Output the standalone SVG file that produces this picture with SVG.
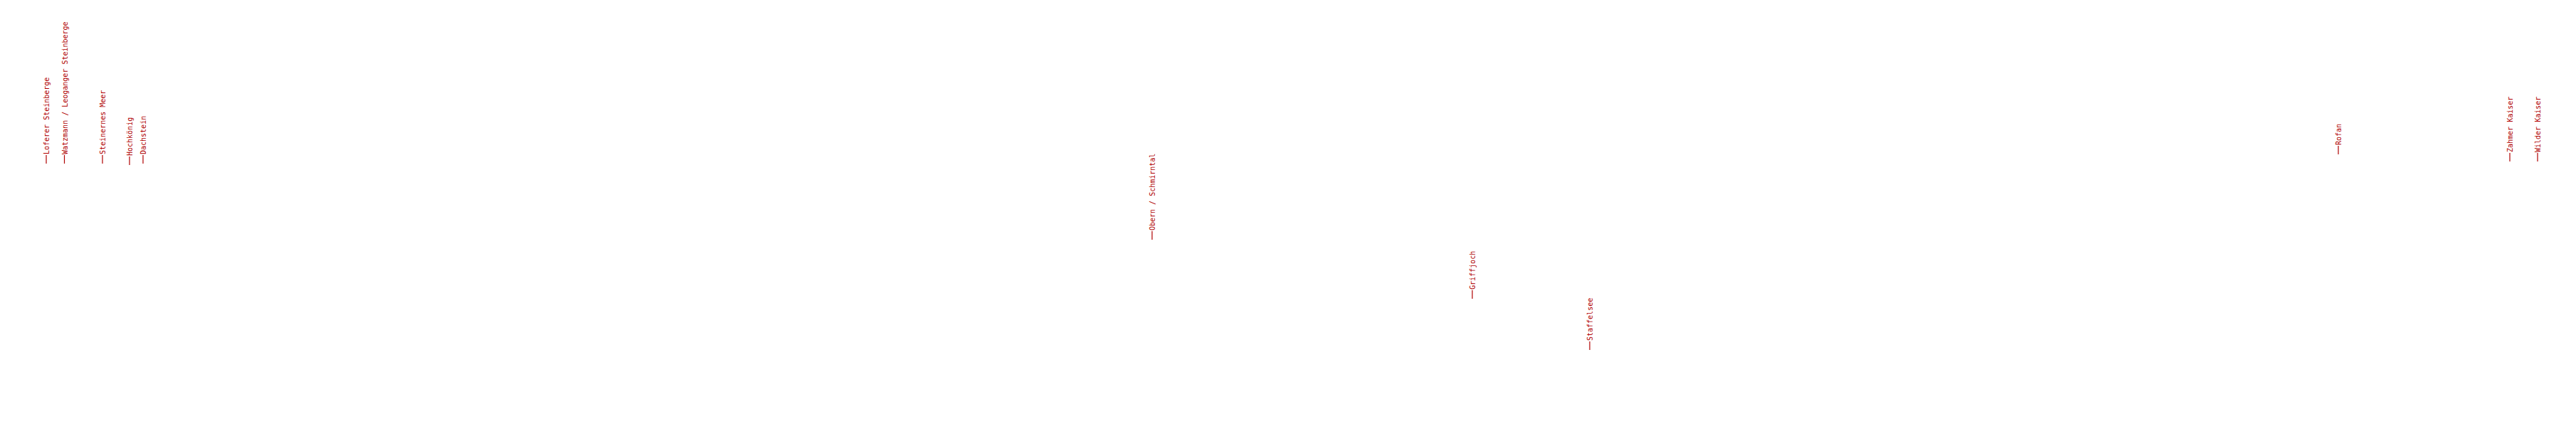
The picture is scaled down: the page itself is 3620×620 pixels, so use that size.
<svg xmlns="http://www.w3.org/2000/svg" width="3620" height="620" viewBox="0 0 3620 620">
<style>
.tick{stroke:#b00000;stroke-width:1.2}
.lbl{font-family:"DejaVu Sans Mono","Liberation Mono",monospace;font-size:10px;fill:#b00000}
</style>
<rect width="3620" height="620" fill="#ffffff"/>
<g id="connectors">
<line class="tick" x1="65" y1="230" x2="65" y2="218"/>
<line class="tick" x1="90.5" y1="230" x2="90.5" y2="218"/>
<line class="tick" x1="144" y1="230" x2="144" y2="218"/>
<line class="tick" x1="182" y1="232" x2="182" y2="220"/>
<line class="tick" x1="201" y1="230" x2="201" y2="218"/>
<line class="tick" x1="1619" y1="337" x2="1619" y2="325"/>
<line class="tick" x1="2069" y1="420" x2="2069" y2="408"/>
<line class="tick" x1="2234" y1="492" x2="2234" y2="480"/>
<line class="tick" x1="3286" y1="217" x2="3286" y2="205"/>
<line class="tick" x1="3527" y1="227" x2="3527" y2="215"/>
<line class="tick" x1="3566" y1="227" x2="3566" y2="215"/>
</g>
<g id="n-loferer"><text class="lbl" transform="translate(69,217) rotate(-90)">Loferer Steinberge</text></g>
<g id="n-watzmann"><text class="lbl" transform="translate(94.5,217) rotate(-90)">Watzmann / Leoganger Steinberge</text></g>
<g id="n-steinernes"><text class="lbl" transform="translate(148,217) rotate(-90)">Steinernes Meer</text></g>
<g id="n-hochkoenig"><text class="lbl" transform="translate(186,219) rotate(-90)">Hochkönig</text></g>
<g id="n-dachstein"><text class="lbl" transform="translate(205,217) rotate(-90)">Dachstein</text></g>
<g id="n-obern"><text class="lbl" transform="translate(1623,324) rotate(-90)">Obern / Schmirntal</text></g>
<g id="n-griffjoch"><text class="lbl" transform="translate(2073,407) rotate(-90)">Griffjoch</text></g>
<g id="n-staffelsee"><text class="lbl" transform="translate(2238,479) rotate(-90)">Staffelsee</text></g>
<g id="n-rofan"><text class="lbl" transform="translate(3290,204) rotate(-90)">Rofan</text></g>
<g id="n-zahmer"><text class="lbl" transform="translate(3531,214) rotate(-90)">Zahmer Kaiser</text></g>
<g id="n-wilder"><text class="lbl" transform="translate(3570,214) rotate(-90)">Wilder Kaiser</text></g>
</svg>
